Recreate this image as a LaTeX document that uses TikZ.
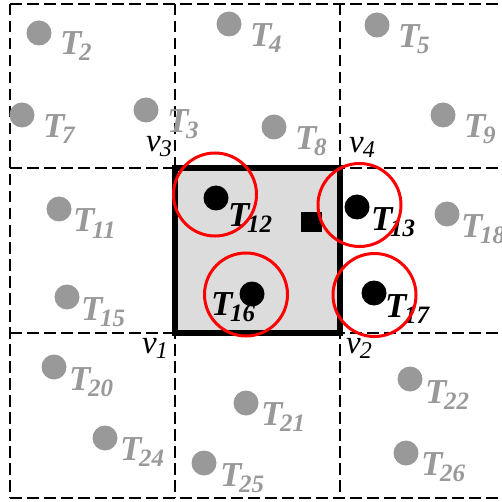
\documentclass[tikz,border=0pt]{standalone}
\usepackage{fontspec}
\setmainfont{Liberation Serif}
\definecolor{dotgray}{HTML}{999999}
\definecolor{sqfill}{HTML}{DCDCDC}
\definecolor{ringred}{HTML}{FF0000}
\newcommand{\TT}[1]{T\kern-2.5pt\raisebox{-6pt}{\fontsize{25}{26}\selectfont #1}}
\newcommand{\VV}[1]{v\kern-1pt\raisebox{-5pt}{\fontsize{24}{26}\selectfont #1}}
\tikzset{
  gdot/.style={circle, fill=dotgray, minimum size=25pt, inner sep=0pt},
  bdot/.style={circle, fill=black, minimum size=25pt, inner sep=0pt},
  glab/.style={anchor=base west, inner sep=0pt, text=dotgray, font=\fontsize{35}{38}\selectfont\bfseries\itshape},
  blab/.style={anchor=base west, inner sep=0pt, text=black, font=\fontsize{35}{38}\selectfont\bfseries\itshape},
  vlab/.style={anchor=base west, inner sep=0pt, text=black, font=\fontsize{33}{36}\selectfont\itshape},
  ring/.style={circle, draw=ringred, line width=3pt, minimum size=83pt, inner sep=0pt},
  gridline/.style={draw=black, line width=2.3pt, dash pattern=on 11.5pt off 5.5pt},
  cellsq/.style={draw=black, fill=sqfill, line width=5.5pt},
  marker/.style={rectangle, fill=black, minimum width=21pt, minimum height=20pt, inner sep=0pt}
}
\begin{document}
\begin{tikzpicture}[x=1pt,y=-1pt]
\useasboundingbox (0,0) rectangle (502,502);
\clip (0,0) rectangle (502,502);
% dashed grid
\foreach \yy in {4,168,333,498} \draw[gridline] (10,\yy) -- (512,\yy);
\foreach \xx in {10,175,340} \draw[gridline] (\xx,4) -- (\xx,498);
% central cell
\draw[cellsq] (175,168) rectangle (340,333);
\node[marker] (sq) at (311.5,222) {};
% grey dots and labels
\node[gdot] (d2) at (39,33) {};   \node[glab] (l2) at (60,55) {\TT{2}};
\node[gdot] (d7) at (22,115) {};  \node[glab] (l7) at (43,138) {\TT{7}};
\node[gdot] (d3) at (146,110) {}; \node[glab] (l3) at (167,133) {\TT{3}};
\node[gdot] (d4) at (229,24) {};  \node[glab] (l4) at (250,47) {\TT{4}};
\node[gdot] (d5) at (377,25) {};  \node[glab] (l5) at (398,48) {\TT{5}};
\node[gdot] (d8) at (274,127) {}; \node[glab] (l8) at (295,150) {\TT{8}};
\node[gdot] (d9) at (443,115) {}; \node[glab] (l9) at (464,138) {\TT{9}};
\node[gdot] (d11) at (59,209) {}; \node[glab] (l11) at (73,232) {\TT{11}};
\node[gdot] (d15) at (67,297) {}; \node[glab] (l15) at (81,320) {\TT{15}};
\node[gdot] (d18) at (447,214) {}; \node[glab] (l18) at (461,237) {\TT{18}};
\node[gdot] (d20) at (54,367) {}; \node[glab] (l20) at (69,390) {\TT{20}};
\node[gdot] (d24) at (105,438) {}; \node[glab] (l24) at (120,460) {\TT{24}};
\node[gdot] (d25) at (204,463) {}; \node[glab] (l25) at (220,486) {\TT{25}};
\node[gdot] (d21) at (246,403) {}; \node[glab] (l21) at (261,425) {\TT{21}};
\node[gdot] (d22) at (410,379) {}; \node[glab] (l22) at (425,403) {\TT{22}};
\node[gdot] (d26) at (406,453) {}; \node[glab] (l26) at (421,475) {\TT{26}};
% black dots, labels, rings
\node[bdot] (d12) at (216,198) {}; \node[blab] (l12) at (228,226) {\TT{12}};
\node[bdot] (d13) at (357,207) {}; \node[blab] (l13) at (371,230) {\TT{13}};
\node[bdot] (d16) at (252,294) {}; \node[blab] (l16) at (211,315) {\TT{16}};
\node[bdot] (d17) at (374,293) {}; \node[blab] (l17) at (385,317) {\TT{17}};
\node[ring] (r12) at (215,194.5) {};
\node[ring] (r13) at (359.5,205) {};
\node[ring] (r16) at (246,294.5) {};
\node[ring] (r17) at (374.5,295) {};
% vertex labels
\node[vlab] (v3) at (146,152) {\VV{3}};
\node[vlab] (v4) at (349,153) {\VV{4}};
\node[vlab] (v1) at (142,353) {\VV{1}};
\node[vlab] (v2) at (346,353) {\VV{2}};
\end{tikzpicture}
\end{document}
